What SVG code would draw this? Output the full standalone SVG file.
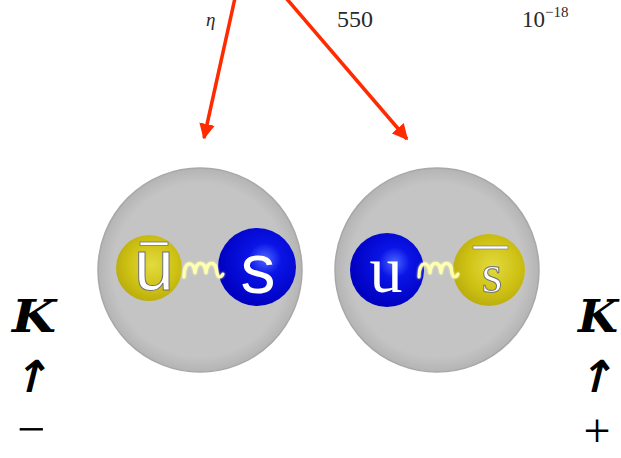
<svg xmlns="http://www.w3.org/2000/svg" width="621" height="458" viewBox="0 0 621 458">
  <style>
    .hdr { font-family: "Liberation Serif", serif; fill: #2a2a2a; }
    .kay { font-family: "DejaVu Serif", "Liberation Serif", serif; font-weight: bold; font-style: italic; fill: #000; }
    .up { font-family: "DejaVu Sans", sans-serif; font-weight: bold; fill: #000; }
    .sign { font-family: "Liberation Serif", serif; fill: #000; }
    .arrow { stroke: #ff2a00; stroke-width: 3.5; fill: none; }
    .meson { fill: url(#mesonFill); stroke: #a8a8a8; stroke-width: 1.5; }
    .gluon { fill: none; stroke: #ffffb0; stroke-width: 3; stroke-linecap: round; stroke-linejoin: round; }
    .qtxt { fill: #ffffff; stroke: #707070; stroke-width: 1; }
  </style>
  <defs>
    <marker id="head" viewBox="0 0 10 10" refX="9" refY="5" markerWidth="4.5" markerHeight="4.5" orient="auto" markerUnits="strokeWidth">
      <path d="M0,0 L10,5 L0,10 z" fill="#ff2a00"/>
    </marker>
    <radialGradient id="mesonFill" cx="0.5" cy="0.5" r="0.5">
      <stop offset="0.85" stop-color="#c4c4c4"/>
      <stop offset="1" stop-color="#b4b4b4"/>
    </radialGradient>
    <radialGradient id="blueQ" cx="0.6" cy="0.4" r="0.6">
      <stop offset="0" stop-color="#4a66ff"/>
      <stop offset="0.35" stop-color="#0a14e6"/>
      <stop offset="1" stop-color="#0000c0"/>
    </radialGradient>
    <radialGradient id="yellowQ" cx="0.55" cy="0.45" r="0.6">
      <stop offset="0" stop-color="#e2da40"/>
      <stop offset="0.6" stop-color="#cfc214"/>
      <stop offset="1" stop-color="#b8aa0c"/>
    </radialGradient>
    <filter id="glow" x="-20%" y="-50%" width="140%" height="200%">
      <feGaussianBlur stdDeviation="1.2" result="b"/>
      <feMerge><feMergeNode in="b"/><feMergeNode in="SourceGraphic"/></feMerge>
    </filter>
  </defs>

  <!-- table fragment at the top -->
  <g id="table-row">
    <text class="hdr" x="206" y="26" font-size="19" font-style="italic">η</text>
    <text class="hdr" x="337" y="27" font-size="24">550</text>
    <text class="hdr" x="522" y="27" font-size="23">10</text>
    <text class="hdr" x="545" y="17" font-size="15">−18</text>
  </g>

  <!-- connectors -->
  <g id="connectors">
    <line class="arrow" x1="235" y1="-2" x2="204" y2="138" marker-end="url(#head)"/>
    <line class="arrow" x1="286" y1="-2" x2="407" y2="139" marker-end="url(#head)"/>
  </g>

  <!-- K minus: anti-up + strange -->
  <g id="kaon-minus">
    <circle class="meson" cx="200" cy="270" r="102"/>
    <circle cx="149" cy="268" r="33" fill="url(#yellowQ)"/>
    <circle cx="257" cy="267" r="39" fill="url(#blueQ)"/>
    <path class="gluon" filter="url(#glow)" d="M184,277 C184,260 194,260 195,273 C196,260 205,260 206,273 C207,260 216,260 217,273 C218,278 221,278 223,274"/>
    <rect x="140" y="242" width="28" height="3.5" fill="#ffffff" stroke="#707070" stroke-width="0.8"/>
    <text class="qtxt" x="154" y="290" font-size="72" font-family="Liberation Sans, sans-serif" text-anchor="middle">u</text>
    <text x="258" y="293" font-size="70" font-family="Liberation Sans, sans-serif" text-anchor="middle" fill="#ffffff">s</text>
  </g>

  <!-- K plus: up + anti-strange -->
  <g id="kaon-plus">
    <circle class="meson" cx="437" cy="270" r="102"/>
    <circle cx="387" cy="270" r="37" fill="url(#blueQ)"/>
    <circle cx="489" cy="270" r="36" fill="url(#yellowQ)"/>
    <path class="gluon" filter="url(#glow)" d="M419,277 C419,260 429,260 430,273 C431,260 440,260 441,273 C442,260 451,260 452,273 C453,278 456,278 458,274"/>
    <text x="386" y="292" font-size="66" font-family="Liberation Serif, serif" text-anchor="middle" fill="#ffffff">u</text>
    <rect x="473" y="246" width="35" height="3" fill="#ffffff" stroke="#707070" stroke-width="0.6"/>
    <text class="qtxt" x="492" y="292" font-size="54" font-family="Liberation Serif, serif" text-anchor="middle" stroke-width="0.8">s</text>
  </g>

  <!-- side labels -->
  <g id="label-kminus">
    <text class="kay" x="12" y="332" font-size="44" textLength="44" lengthAdjust="spacingAndGlyphs">K</text>
    <text class="up" x="0" y="0" font-size="44" text-anchor="middle" transform="translate(29,392) skewX(-14)">↑</text>
    <text class="sign" x="31" y="446" font-size="50" text-anchor="middle">−</text>
  </g>
  <g id="label-kplus">
    <text class="kay" x="578" y="332" font-size="44" textLength="40" lengthAdjust="spacingAndGlyphs">K</text>
    <text class="up" x="0" y="0" font-size="44" text-anchor="middle" transform="translate(594,392) skewX(-14)">↑</text>
    <text class="sign" x="597" y="447" font-size="48" text-anchor="middle">+</text>
  </g>
</svg>
